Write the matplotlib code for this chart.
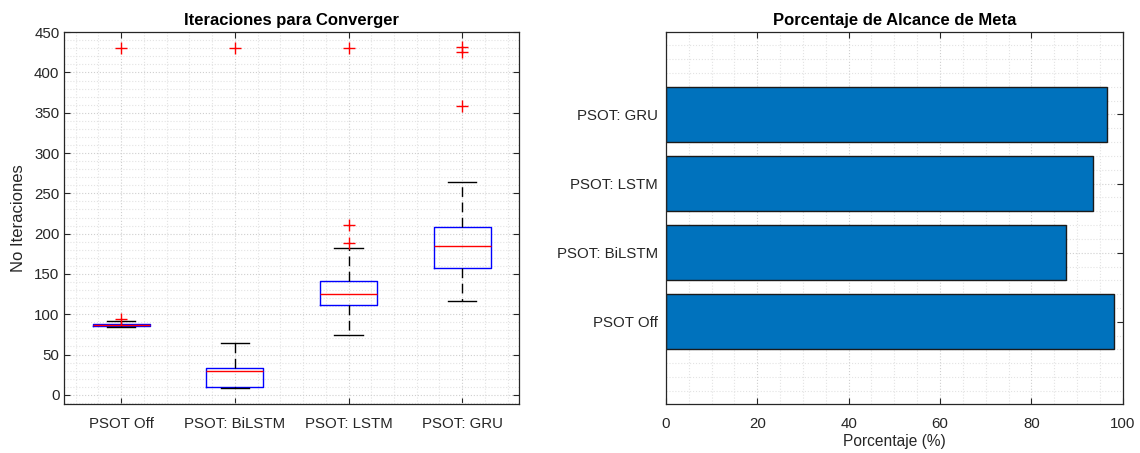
import matplotlib.pyplot as plt
from matplotlib.ticker import MultipleLocator

plt.rcParams['font.family'] = ['Liberation Sans', 'DejaVu Sans']

categories = ['PSOT Off', 'PSOT: BiLSTM', 'PSOT: LSTM', 'PSOT: GRU']

# box stats
medians = [87, 29, 125, 185]
q1 = [86, 10, 111, 157]
q3 = [88, 33, 141, 208]
whisker_lo = [84, 9, 74, 116]
whisker_hi = [91, 64, 182, 264]
outliers = [[94, 430], [430], [188, 211, 430], [358, 425, 431]]

# goal reach percentage (right panel)
percent_reached = [98.0, 87.6, 93.6, 96.5]

gray = '#262626'

fig = plt.figure(figsize=(11.4, 4.53), dpi=100)
ax1 = fig.add_axes([0.0564, 0.108, 0.3989, 0.821])
ax2 = fig.add_axes([0.5842, 0.108, 0.4006, 0.821])

stats = []
for i in range(len(categories)):
    stats.append(dict(label=categories[i], med=medians[i], q1=q1[i], q3=q3[i],
                      whislo=whisker_lo[i], whishi=whisker_hi[i], fliers=outliers[i]))

ax1.bxp(stats, positions=[1, 2, 3, 4], widths=0.5,
        boxprops=dict(color='blue', linewidth=1),
        medianprops=dict(color='red', linewidth=1),
        whiskerprops=dict(color='black', linestyle=(0, (7, 4)), linewidth=1),
        capprops=dict(color='black', linewidth=1),
        capwidths=0.25,
        flierprops=dict(marker='+', markeredgecolor='red', markersize=8, linestyle='none'))
ax1.set_xlim(0.5, 4.5)
ax1.set_ylim(-11.5, 450)
ax1.yaxis.set_major_locator(MultipleLocator(50))
ax1.yaxis.set_minor_locator(MultipleLocator(10))
ax1.xaxis.set_minor_locator(MultipleLocator(0.2))
ax1.set_title('Iteraciones para Converger', fontsize=12, fontweight='bold', pad=5)
ax1.set_ylabel('No Iteraciones', fontsize=12, color=gray, labelpad=6)

y = [1, 2, 3, 4]
ax2.barh(y, percent_reached, height=0.8, color='#0072BD', edgecolor='#1a1a1a', linewidth=1)
ax2.set_yticks(y)
ax2.set_yticklabels(categories)
ax2.set_xlim(0, 100)
ax2.set_ylim(-0.19, 5.19)
ax2.xaxis.set_major_locator(MultipleLocator(20))
ax2.xaxis.set_minor_locator(MultipleLocator(5))
ax2.yaxis.set_minor_locator(MultipleLocator(0.2))
ax2.set_title('Porcentaje de Alcance de Meta', fontsize=12, fontweight='bold', pad=5)
ax2.set_xlabel('Porcentaje (%)', fontsize=11.2, color=gray, labelpad=2)

for ax in (ax1, ax2):
    ax.set_axisbelow(True)
    ax.grid(True, which='major', linestyle=':', color='#cfcfcf', linewidth=0.8)
    ax.grid(True, which='minor', linestyle=':', color='#e3e3e3', linewidth=0.8)
    ax.tick_params(which='major', direction='in', top=True, right=True, length=4,
                   color=gray, labelcolor=gray, labelsize=10.8, width=0.8)
    ax.tick_params(axis='x', which='major', pad=9.5)
    ax.tick_params(which='minor', length=0)
    for s in ax.spines.values():
        s.set_color(gray)
        s.set_linewidth(0.9)
ax2.tick_params(axis='y', which='major', pad=6)

fig.savefig('out.png', dpi=100)
